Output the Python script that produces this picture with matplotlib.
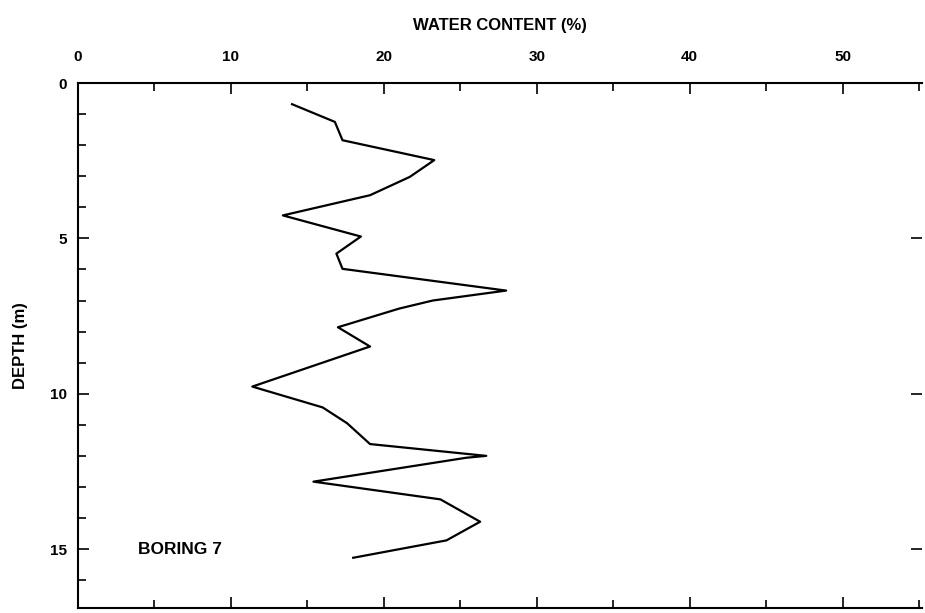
import matplotlib
matplotlib.use("Agg")
import matplotlib.pyplot as plt
from matplotlib.ticker import MultipleLocator

# water content profile, boring 7
water = [14.0, 16.8, 17.3, 23.3, 21.7, 19.1, 13.4, 18.5, 16.9, 17.3, 28.0, 23.2,
         21.0, 17.0, 19.1, 11.4, 16.0, 17.6, 19.1, 26.7, 25.4, 15.4, 23.7, 26.3, 24.1, 18.0]
depth = [0.68, 1.25, 1.84, 2.48, 3.02, 3.61, 4.26, 4.94, 5.49, 5.98, 6.68, 7.0,
         7.26, 7.86, 8.48, 9.77, 10.44, 10.95, 11.62, 12.0, 12.06, 12.83, 13.4, 14.12, 14.72, 15.28]
xticks = [0, 10, 20, 30, 40, 50]
yticks = [0, 5, 10, 15]

plt.rcParams.update({"font.family": "Liberation Sans", "font.weight": "bold"})

fig = plt.figure(figsize=(9.25, 6.13), dpi=100)
ax = fig.add_axes([0.0843, 0.008, 0.9125, 0.8565])
ax.plot(water, depth, color="black", lw=1.6)

ax.set_xlim(0, 55.2)
ax.set_ylim(16.9, 0)
ax.xaxis.tick_top()
ax.xaxis.set_label_position("top")
ax.set_xticks(xticks)
ax.xaxis.set_minor_locator(MultipleLocator(5))
ax.set_yticks(yticks)
ax.yaxis.set_minor_locator(MultipleLocator(1))
ax.tick_params(which="both", direction="in", top=True, bottom=True, left=True, right=False,
               labelsize=11, width=1.2)
ax.tick_params(which="major", length=8)
ax.tick_params(which="minor", length=6)
ax.tick_params(axis="y", which="major", right=True)
ax.tick_params(axis="x", pad=14)
ax.tick_params(axis="y", pad=8)
for s in ax.spines.values():
    s.set_linewidth(1.5)
ax.spines["right"].set_visible(False)

ax.set_xlabel("WATER CONTENT (%)", fontsize=12, fontweight="bold", labelpad=14)
ax.set_ylabel("DEPTH (m)", fontsize=12, fontweight="bold", labelpad=16)
ax.text(3.9, 15.0, "BORING 7", fontsize=12.5, fontweight="bold", ha="left", va="center")

fig.savefig("out.png", dpi=100)
